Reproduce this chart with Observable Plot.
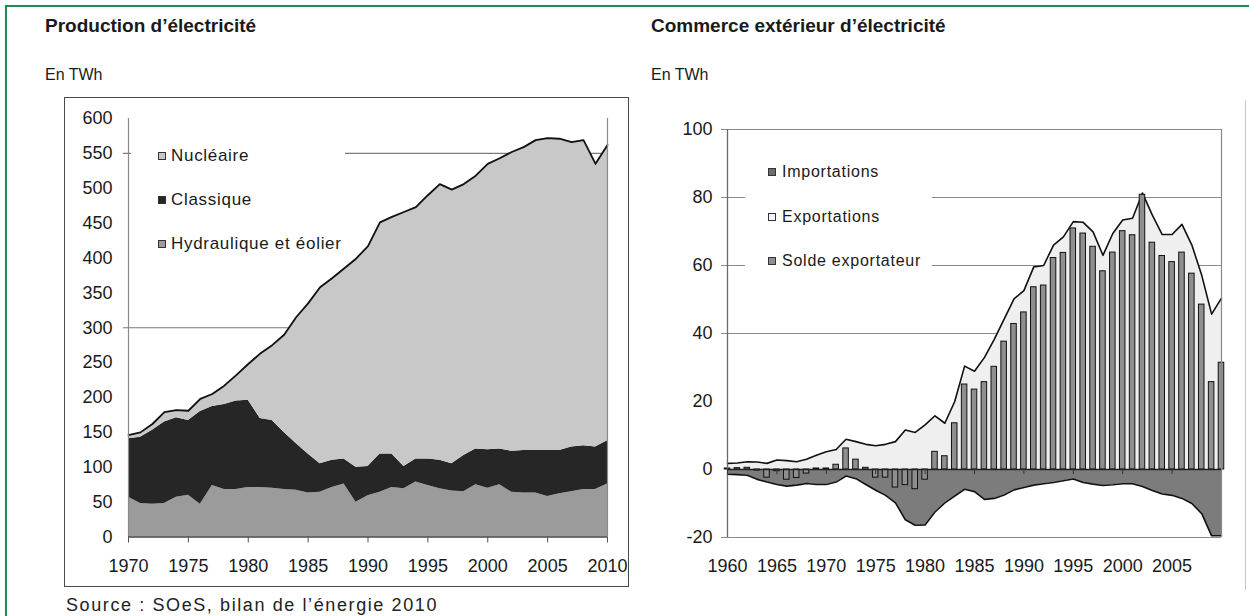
<!DOCTYPE html>
<html><head><meta charset="utf-8">
<script src="https://cdn.jsdelivr.net/npm/d3@7"></script>
<script src="https://cdn.jsdelivr.net/npm/@observablehq/plot@0.6"></script>
<style>
body{margin:0;background:#fff;}
#page{position:relative;width:1249px;height:616px;overflow:hidden;font-family:"Liberation Sans",Arial,sans-serif;color:#1a1a1a;background:#fff;}
.abs{position:absolute;white-space:nowrap;}
.title{font-size:19px;font-weight:bold;line-height:19px;}
.unit{font-size:16px;line-height:16px;}
.sq{position:absolute;box-sizing:border-box;width:8px;height:8px;border:1px solid #333;}
</style></head>
<body><div id="page"></div>
<script>
// ---------- Production d'électricité (TWh) ----------
const years = [1970,1971,1972,1973,1974,1975,1976,1977,1978,1979,1980,1981,1982,1983,1984,1985,1986,1987,1988,1989,1990,1991,1992,1993,1994,1995,1996,1997,1998,1999,2000,2001,2002,2003,2004,2005,2006,2007,2008,2009,2010];
const hydro = [57,48,47,48,57,60,47,74,68,68,71,71,70,68,67,63,64,71,76,50,59,64,71,69,79,74,69,66,65,75,70,75,64,63,63,58,62,65,68,68,76];
const classique = [84,95,106,117,114,107,133,113,122,127,125,99,97,82,67,56,41,39,36,50,42,55,48,32,33,38,41,39,52,51,55,51,59,61,61,66,62,64,63,61,62];
const nucleaire = [5,7,9,14,11,14,18,18,27,37,52,93,108,140,181,216,253,261,273,299,316,332,340,365,361,378,396,393,389,392,410,417,429,435,445,448,447,437,438,406,424];
const seriesNames = ["Hydraulique et éolier","Classique","Nucléaire"];
const seriesColors = ["#9b9b9b","#262626","#c8c8c8"];
const legendLeft = ["Nucléaire","Classique","Hydraulique et éolier"];
const yTicksLeft = [0,50,100,150,200,250,300,350,400,450,500,550,600];
const xTicksLeft = [1970,1975,1980,1985,1990,1995,2000,2005,2010];
const gridLeft = [300,550];

// ---------- Commerce extérieur d'électricité (TWh) ----------
const tradeYears = [1960,1961,1962,1963,1964,1965,1966,1967,1968,1969,1970,1971,1972,1973,1974,1975,1976,1977,1978,1979,1980,1981,1982,1983,1984,1985,1986,1987,1988,1989,1990,1991,1992,1993,1994,1995,1996,1997,1998,1999,2000,2001,2002,2003,2004,2005,2006,2007,2008,2009,2010];
const exportations = [1.8,1.9,2.3,2.2,1.8,2.8,2.6,2.3,3.0,4.2,5.2,5.9,8.9,8.2,7.4,7.0,7.4,8.2,11.6,10.9,13.1,15.8,13.6,20,30.4,28.9,32.9,38.3,44.2,50.2,52.6,59.6,60,66,68.4,72.9,72.7,69.9,63,69.4,73.4,73.9,81.3,74.8,69.1,69.1,72.1,66,57.1,45.7,50.4];
const importations = [-1.4,-1.5,-1.7,-2.9,-3.7,-4.4,-4.9,-4.6,-4.1,-4.4,-4.4,-3.7,-1.9,-2.7,-4.4,-6.1,-7.6,-9.8,-14.8,-16.4,-16.3,-12.5,-9.8,-7.8,-5.8,-6.5,-8.8,-8.5,-7.5,-6,-5.3,-4.6,-4.2,-3.8,-3.3,-2.8,-3.8,-4.3,-4.7,-4.5,-4.2,-4.2,-5,-6.2,-7.2,-7.6,-8.5,-10,-13,-19.5,-19.5];
const solde = [0.3,0.4,0.5,-0.3,-2.4,-0.5,-3,-2.5,-1.2,0.3,0.3,1.4,6.2,2.9,0.5,-2.4,-2.4,-5.3,-4.6,-5.8,-3,5.2,3.9,13.6,25,23.5,25.7,30.2,37.6,42.8,46.2,53.6,54.1,62.2,63.7,70.9,69.4,65.5,58.3,63.8,70.1,68.9,80.8,66.7,62.8,61,63.8,57.6,48.5,25.7,31.4];
const legendRight = ["Importations","Exportations","Solde exportateur"];
const legendRightColors = ["#6e6e6e","#f4f4f4","#8f8f8f"];
const yTicksRight = [-20,0,20,40,60,80,100];
const xTicksRight = [1960,1965,1970,1975,1980,1985,1990,1995,2000,2005];
const gridRight = [-20,40,60,80,100];

const page = document.getElementById("page");
const font = '"Liberation Sans", Arial, sans-serif';

// ---- left chart
const prodRows = [];
[hydro, classique, nucleaire].forEach((vals, k) => years.forEach((y, i) => prodRows.push({year: y, series: seriesNames[k], value: vals[i]})));
const totalRows = years.map((y, i) => ({year: y, total: hydro[i] + classique[i] + nucleaire[i]}));

const left = Plot.plot({
  width: 640, height: 600,
  marginLeft: 128, marginRight: 33, marginTop: 118, marginBottom: 63.5,
  x: {domain: [1970, 2010], label: null},
  y: {domain: [0, 600], label: null},
  color: {domain: seriesNames, range: seriesColors},
  style: {background: "none", fontFamily: font, fontSize: "18px", color: "#1a1a1a", overflow: "visible"},
  marks: [
    Plot.ruleY(gridLeft, {x1: 1970, x2: 2010, insetLeft: -5, stroke: "#7a7a7a", strokeWidth: 1.2}),
    Plot.areaY(prodRows, {x: "year", y: "value", fill: "series", order: seriesNames}),
    Plot.lineY(totalRows, {x: "year", y: "total", stroke: "#111", strokeWidth: 1.8}),
    Plot.ruleX([1970], {y1: 0, y2: 600, stroke: "#8a8a8a", strokeWidth: 1.2}),
    Plot.ruleX([2010], {y1: 0, y2: 600, stroke: "#8a8a8a", strokeWidth: 1.2}),
    Plot.ruleY([0], {x1: 1970, x2: 2010, stroke: "#444", strokeWidth: 1.5}),
    Plot.axisY({ticks: yTicksLeft, tickSize: 0, tickPadding: 16, tickFormat: d => String(d), label: null}),
    Plot.axisX({ticks: xTicksLeft, tickSize: 6, tickPadding: 16, tickFormat: d => String(d), stroke: "#555", label: null})
  ]
});
left.style.position = "absolute";
left.style.left = "0px";
left.style.top = "0px";
page.appendChild(left);

// ---- right chart
const tradeRows = tradeYears.map((y, i) => ({year: y, exp: exportations[i], imp: importations[i], solde: solde[i]}));
const right = Plot.plot({
  width: 609, height: 600,
  marginLeft: 87, marginRight: 28, marginTop: 129, marginBottom: 63,
  x: {domain: [1960, 2010], label: null},
  y: {domain: [-20, 100], label: null},
  style: {background: "none", fontFamily: font, fontSize: "18px", color: "#1a1a1a", overflow: "visible"},
  marks: [
    Plot.ruleY(gridRight, {x1: 1960, x2: 2010, insetLeft: -6, stroke: "#8a8a8a", strokeWidth: 1.2}),
    Plot.areaY(tradeRows, {x: "year", y1: 0, y2: "exp", fill: "#efefef"}),
    Plot.areaY(tradeRows, {x: "year", y1: 0, y2: "imp", fill: "#7c7c7c"}),
    Plot.lineY(tradeRows, {x: "year", y: "exp", stroke: "#111", strokeWidth: 1.6}),
    Plot.lineY(tradeRows, {x: "year", y: "imp", stroke: "#111", strokeWidth: 1.6}),
    Plot.rect(tradeRows, {x1: d => d.year - 0.28, x2: d => d.year + 0.28, y1: 0, y2: "solde", fill: "#8f8f8f", stroke: "#111", strokeWidth: 1}),
    Plot.ruleX([1960], {y1: -20, y2: 100, stroke: "#6a6a6a", strokeWidth: 1.3}),
    Plot.ruleX([2010], {y1: -20, y2: 100, stroke: "#8a8a8a", strokeWidth: 1.2}),
    Plot.ruleY([0], {x1: 1960, x2: 2010, stroke: "#222", strokeWidth: 1.5}),
    Plot.ruleX(xTicksRight, {y1: 0, y2: -1.5, stroke: "#333"}),
    Plot.axisY({ticks: yTicksRight, tickSize: 0, tickPadding: 15, tickFormat: d => String(d), label: null}),
    Plot.axisX({ticks: xTicksRight, tickSize: 0, tickPadding: 22, tickFormat: d => String(d), label: null})
  ]
});
right.style.position = "absolute";
right.style.left = "640px";
right.style.top = "0px";
page.appendChild(right);

// ---- decorations & texts
function div(css, cls) {
  const d = document.createElement("div");
  d.className = cls || "abs";
  d.style.cssText += css;
  page.appendChild(d);
  return d;
}
// green outer border and right grey line
div("left:5px;top:5px;width:1244px;height:611px;border-left:2px solid #1f8a4c;border-top:2px solid #1f8a4c;");
div("left:1245px;top:100px;width:0;height:490px;border-left:1.5px solid #c8c8c8;");
// left chart frame
div("left:64px;top:97px;width:565px;height:490px;border:1.5px solid #4a4a4a;box-sizing:border-box;");

// titles
div("left:45px;top:15.6px;", "abs title").textContent = "Production d’électricité";
div("left:651px;top:15.6px;", "abs title").textContent = "Commerce extérieur d’électricité";
div("left:45px;top:66.5px;", "abs unit").textContent = "En TWh";
div("left:651px;top:66.5px;", "abs unit").textContent = "En TWh";
// source
div("left:66px;top:596px;font-size:18px;line-height:18px;letter-spacing:1.6px;color:#222;").textContent = "Source : SOeS, bilan de l’énergie 2010";

// left legend
div("left:131px;top:135px;width:214px;height:126px;background:#fff;");
const leftCenters = [155, 199, 243];
legendLeft.forEach((name, i) => {
  const col = seriesColors[seriesNames.indexOf(name)];
  div("left:158px;top:" + (leftCenters[i] - 3) + "px;background:" + col + ";", "sq");
  div("left:171px;top:" + (leftCenters[i] + 6.1 - 17 * 0.8465) + "px;font-size:17px;line-height:17px;letter-spacing:0.7px;").textContent = name;
});

// right legend
div("left:745px;top:150px;width:187px;height:135px;background:#fff;");
const rightCenters = [172, 216.5, 261];
legendRight.forEach((name, i) => {
  div("left:768px;top:" + (rightCenters[i] - 4) + "px;background:" + legendRightColors[i] + ";", "sq");
  div("left:782px;top:" + (rightCenters[i] + 5.7 - 16 * 0.8465) + "px;font-size:16px;line-height:16px;letter-spacing:0.75px;").textContent = name;
});
</script>
</body></html>
